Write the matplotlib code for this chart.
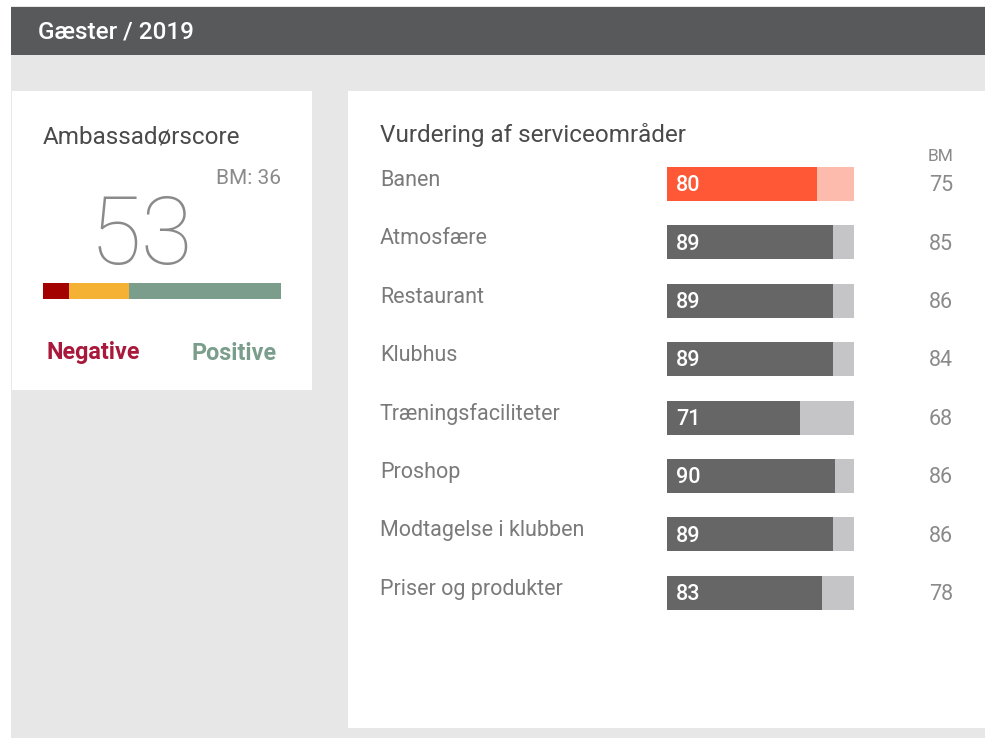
import matplotlib.pyplot as plt
from matplotlib.patches import Rectangle

# ---- DATA ----
areas = ["Banen", "Atmosfære", "Restaurant", "Klubhus", "Træningsfaciliteter",
         "Proshop", "Modtagelse i klubben", "Priser og produkter"]
scores = [80, 89, 89, 89, 71, 90, 89, 83]
benchmarks = [75, 85, 86, 84, 68, 86, 86, 78]

nps_score = 53
nps_bm = 36
nps_parts = [11, 25, 64]  # negative / passive / positive share
nps_colors = ["#a30000", "#f4b133", "#7b9e8c"]

W, H = 985, 738
plt.rcParams["font.family"] = ["Roboto", "DejaVu Sans"]

fig = plt.figure(figsize=(W / 100, H / 100), dpi=100)
fig.patch.set_facecolor("white")


def px_axes(x0, y0, x1, y1):
    # axes placed by pixel box (top-left origin)
    return fig.add_axes([x0 / W, 1 - y1 / H, (x1 - x0) / W, (y1 - y0) / H])


# ---- BACKGROUND / CARDS ----
bg = fig.add_axes([0, 0, 1, 1])
bg.set_xlim(0, W)
bg.set_ylim(H, 0)
bg.axis("off")
bg.add_patch(Rectangle((11, 6), W - 11, H - 6, color="#e7e7e7", lw=0))
bg.add_patch(Rectangle((11, 7), W - 11, 48, color="#58595b", lw=0))
bg.add_patch(Rectangle((12, 91), 300, 299, color="white", lw=0))
bg.add_patch(Rectangle((348, 91), W - 348, 637, color="white", lw=0))

bg.text(38, 32, "Gæster / 2019", color="white", fontsize=17.5,
        fontweight="medium", va="center", ha="left")

# left card
bg.text(43, 137, "Ambassadørscore", color="#4a4a4a", fontsize=17.5,
        va="center", ha="left")
bg.text(281, 178, f"BM: {nps_bm}", color="#8a8a8a", fontsize=15,
        va="center", ha="right")
bg.text(141, 238, str(nps_score), color="#8a8a8a", fontsize=68,
        fontweight=100, va="center", ha="center")
bg.text(47, 353, "Negative", color="#a8193b", fontsize=16.8,
        fontweight="bold", va="center", ha="left")
bg.text(277, 353, "Positive", color="#7b9e8c", fontsize=16.8,
        fontweight="bold", va="center", ha="right")

# right card title
bg.text(380, 135, "Vurdering af serviceområder", color="#4a4a4a",
        fontsize=17.5, va="center", ha="left")

# ---- NPS distribution bar ----
ax_n = px_axes(43, 283, 281, 299)
left = 0
for part, col in zip(nps_parts, nps_colors):
    ax_n.barh(0, part, left=left, height=1, color=col, lw=0)
    left += part
ax_n.set_xlim(0, sum(nps_parts))
ax_n.set_ylim(-0.5, 0.5)
ax_n.axis("off")

# ---- SERVICE AREA BARS ----
row_h = 58.4
top = 184 - row_h / 2
ax = px_axes(667, top, 854, top + row_h * len(areas))
ax.set_xlim(0, 100)
ax.set_ylim(len(areas) - 0.5, -0.5)
ax.axis("off")

for i, (name, s, b) in enumerate(zip(areas, scores, benchmarks)):
    main, light = ("#fe5836", "#fdbbae") if i == 0 else ("#666666", "#c5c5c7")
    ax.barh(i, 100, height=0.58, color=light, lw=0)
    ax.barh(i, s, height=0.58, color=main, lw=0)
    ax.text(0.05, i + 0.03, str(s), transform=ax.get_yaxis_transform(),
            color="white", fontsize=15.5, fontweight="medium",
            va="center", ha="left")
    ax.text(-1.535, i - 0.06, name, transform=ax.get_yaxis_transform(),
            color="#7a7a7a", fontsize=15.5, va="center", ha="left")
    ax.text(1.53, i + 0.03, str(b), transform=ax.get_yaxis_transform(),
            color="#8a8a8a", fontsize=15.5, va="center", ha="right")

ax.text(1.464, -0.47, "BM", transform=ax.get_yaxis_transform(),
        color="#8a8a8a", fontsize=12.5, va="center", ha="center")

fig.savefig("out.png", dpi=100)
